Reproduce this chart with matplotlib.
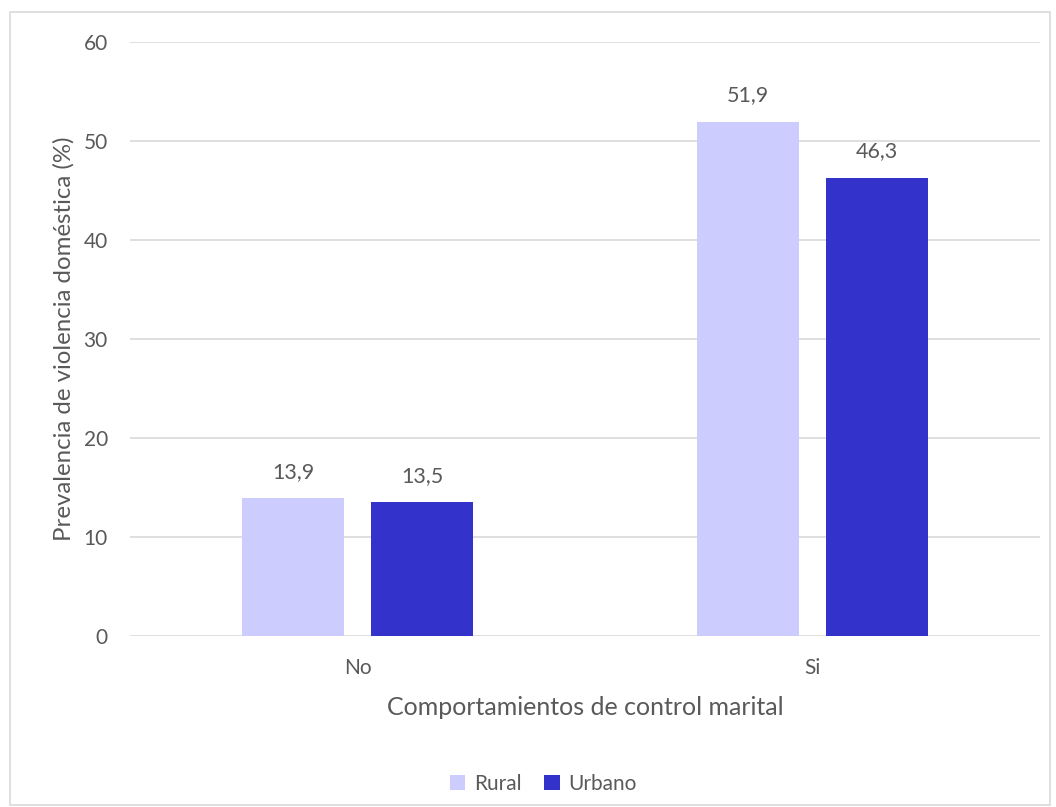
import matplotlib.pyplot as plt
from matplotlib.patches import Rectangle
import numpy as np

categories = ["No", "Si"]
rural = [13.9, 51.9]
urbano = [13.5, 46.3]
series_names = ["Rural", "Urbano"]
colors = ["#CCCCFF", "#3333CC"]
text_color = "#595959"

plt.rcParams['font.family'] = ['Lato', 'DejaVu Sans']

fig = plt.figure(figsize=(10.56, 8.07), dpi=100)
ax = fig.add_axes([0.1231, 0.2119, 0.8619, 0.7361])

x = np.arange(len(categories))
width = 0.224
offset = 0.1418

b1 = ax.bar(x - offset, rural, width, color=colors[0], label=series_names[0], zorder=3)
b2 = ax.bar(x + offset, urbano, width, color=colors[1], label=series_names[1], zorder=3)

for bars in (b1, b2):
    for bar in bars:
        h = bar.get_height()
        ax.annotate(f"{h:.1f}".replace(".", ","), (bar.get_x() + bar.get_width() / 2, h),
                    xytext=(0, 12), textcoords="offset points", ha="center", va="bottom",
                    fontsize=15.5, color=text_color)

ax.set_xlim(-0.5, 1.5)
ax.set_ylim(0, 60)
ax.set_yticks(range(0, 61, 10))
ax.set_xticks(x)
ax.set_xticklabels(categories)
ax.grid(axis="y", color="#D9D9D9", linewidth=1.2, zorder=0)
for s in ax.spines.values():
    s.set_visible(False)
ax.tick_params(axis="both", length=0, labelsize=15, labelcolor=text_color)
ax.tick_params(axis="y", pad=16)
ax.tick_params(axis="x", pad=16)

ax.set_xlabel("Comportamientos de control marital", fontsize=18, color=text_color, labelpad=13)
ax.set_ylabel("Prevalencia de violencia doméstica (%)", fontsize=17.3, color=text_color)
ax.yaxis.set_label_coords(-0.0604, 0.5)

ax.legend(loc="upper center", bbox_to_anchor=(0.454, -0.2), ncol=2, frameon=False,
          fontsize=15, labelcolor=text_color, handlelength=0.75, handleheight=0.75,
          columnspacing=1.1, handletextpad=0.4)

fig.patches.append(Rectangle((10 / 1056, 2 / 807), 1040 / 1056, 793 / 807,
                             transform=fig.transFigure, fill=False,
                             edgecolor="#D9D9D9", linewidth=1.2))

fig.savefig("out.png", dpi=100)
